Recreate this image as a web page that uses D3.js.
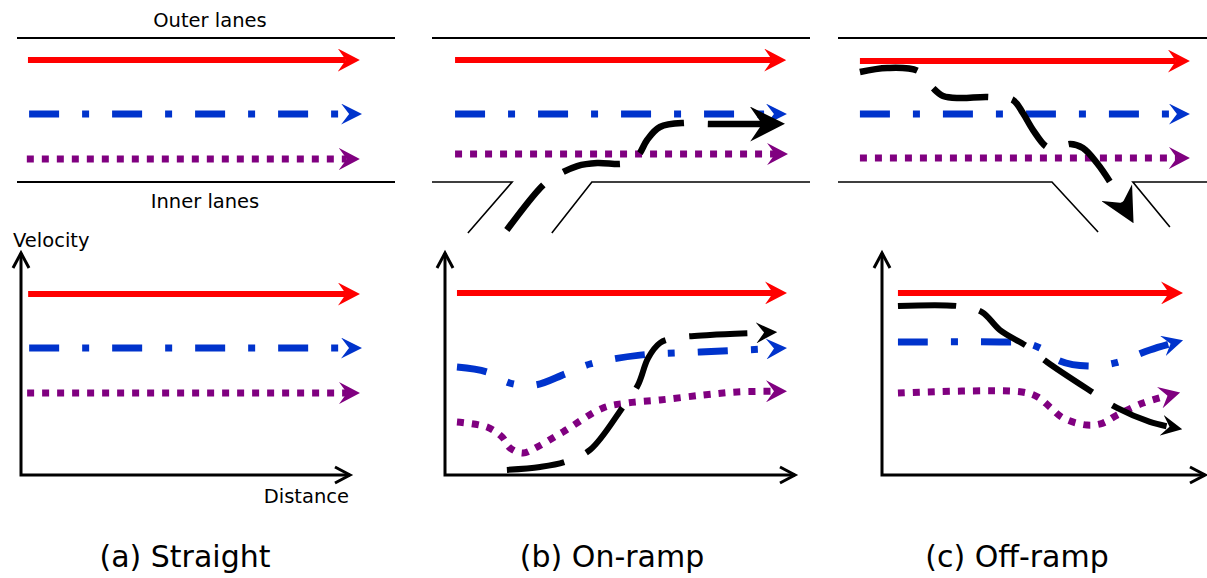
<!DOCTYPE html>
<html><head><meta charset="utf-8">
<script src="https://cdn.jsdelivr.net/npm/d3@7"></script>
<style>body{margin:0;background:#fff} svg{display:block}</style>
</head><body><svg id="c" width="1207" height="578"></svg>
<script>
// ---------------- data ----------------
const panelTitles = ["(a) Straight", "(b) On-ramp", "(c) Off-ramp"];
const laneLabels = ["Outer lanes", "Inner lanes"];
const axisTitles = ["Velocity", "Distance"];

// Lane diagrams: [distance 0-100, lateral position (0 = inner road edge, 100 = outer road edge)]
const roadA = [[[0,100],[100,100]], [[0,0],[100,0]]];
const roadB = [[[0,100],[100,100]], [[0,0],[21.2,0],[9.5,-35.4]], [[31.7,-35.4],[42.3,0],[100,0]]];
const roadC = [[[0,100],[100,100]], [[0,0],[56.6,0],[68.8,-34.7]], [[87.8,-31.3],[78,0],[100,0]]];

const laneRedA = [[2.9,84.7],[90.7,84.7]];
const laneBlueA = [[3.2,47.2],[91.3,47.2]];
const lanePurpleA = [[2.6,16.0],[90.7,16.0]];

const laneRedB = [[6.1,84.7],[93.7,84.7]];
const laneBlueB = [[6.1,47.2],[93.9,47.2]];
const lanePurpleB = [[6.1,19.4],[94.2,19.4]];
const laneBlackB = [[19.8,-33.3],[29.4,-2.1],[32.8,4.2],[38.4,11.1],[43.7,13.2],[50,12.5],[53.2,14.6],[55,20.1],[56.9,29.2],[60.3,38.2],[66.9,41],[73.5,40.3],[93.4,40.3]];

const laneRedC = [[5.8,84.0],[93.1,84.0]];
const laneBlueC = [[5.8,47.2],[93.1,47.2]];
const lanePurpleC = [[5.8,16.7],[93.1,16.7]];
const laneBlackC = [[5.8,76.4],[13,79.2],[21.2,77.1],[25.1,65.3],[27.8,59.7],[32.3,58.3],[39.7,59],[46.3,56.9],[48.9,47.9],[51.6,36.1],[55.3,24.3],[58.2,23.6],[61.4,26.4],[64.8,23.6],[68.5,13.2],[72.5,-2.1],[78.3,-28.5]];

// Velocity profiles: [distance 0-100, velocity 0-100]
const velRedA = [[2.1,81.5],[99.7,81.5]];
const velBlueA = [[2.4,57.2],[100.3,57.2]];
const velPurpleA = [[1.8,36.9],[99.7,36.9]];

const velRedB = [[3.5,82],[100,82]];
const velBlueB = [[3.5,48.6],[12.3,46.4],[19,41.4],[26.3,40.5],[35.1,45.5],[42.4,50],[57,54],[74.6,55.4],[100,57.2]];
const velPurpleB = [[3.5,23.9],[12.3,21.6],[16.7,17.1],[19,12.2],[22.8,9.9],[26.9,12.6],[34.5,19.4],[46.2,30.2],[53.2,32.4],[62.9,33.8],[75.4,36],[85.4,37.4],[100,37.8]];
const velBlackB = [[18.1,2.3],[27.8,3.6],[35.1,5.9],[42.4,11.3],[52,30.6],[56.4,40.5],[59.4,52.7],[62.9,59.5],[67.3,61.7],[77.5,63.1],[97.1,64.4]];

const velRedC = [[5.3,82],[100,82]];
const velBlueC = [[5.3,59.9],[39.2,59.9],[47.5,59.5],[52.5,57.2],[59.1,51.4],[68.4,49.1],[77.4,50.5],[89,56.3],[100,60.8]];
const velPurpleC = [[5.3,36.9],[46.5,37.4],[51.8,35.1],[55.8,30.6],[60.1,25.7],[68.1,22.5],[73.4,23.4],[78.1,27],[86.7,32.4],[99,37.4]];
const velBlackC = [[5.3,76.1],[25.2,76.1],[33.2,73.4],[39.2,65.3],[48.5,57.7],[54.8,50.9],[70.8,36.5],[78.1,30.2],[89,23.9],[99.7,20.3]];

// ---------------- layout ----------------
const layout = [
  {laneX:[17,395],  velX:[21,361],   ax:{x0:21,  xEnd:350},  title:185},
  {laneX:[432,810], velX:[445,787],  ax:{x0:445, xEnd:795},  title:612},
  {laneX:[838,1216],velX:[882,1183], ax:{x0:882, xEnd:1205}, title:1017}
];
const laneYRange = [182, 38];
const velYRange = [475, 253];

const svg = d3.select("#c");
const defs = svg.append("defs");
function marker(id, color, L, H, n) {
  defs.append("marker").attr("id", id).attr("markerUnits","userSpaceOnUse")
    .attr("viewBox", `0 ${-H} ${L} ${2*H}`)
    .attr("markerWidth", L).attr("markerHeight", 2*H)
    .attr("refX", n).attr("refY", 0).attr("orient","auto")
    .append("path").attr("d", `M0,${-H}L${L},0L0,${H}L${n},0Z`).attr("fill", color);
}
marker("hRed", "#ff0000", 22, 11.5, 8);
marker("hBlue", "#0033cc", 21, 10.5, 8);
marker("hPurple", "#800080", 21, 11, 8);
marker("hBlackBig", "#000", 35, 17.5, 12);
marker("hBlackSmall", "#000", 21, 10.5, 8);

const styles = {
  red:    {color:"#ff0000", width:6,   dash:null,          head:"hRed",       back:14},
  blue:   {color:"#0033cc", width:7,   dash:"30,23,7,23",  head:"hBlue",      back:13},
  purple: {color:"#800080", width:7,   dash:"7,8",         head:"hPurple",    back:13},
  black:  {color:"#000",    width:6.5, dash:"58,24",       head:"hBlackBig",  back:23},
  blackV: {color:"#000",    width:6,   dash:"58,24",       head:"hBlackSmall",back:13}
};

const curve = d3.line().curve(d3.curveCatmullRom.alpha(0.5));

function drawSeries(data, xs, ys, st) {
  const pts = data.map(d => [xs(d[0]), ys(d[1])]);
  const n = pts.length;
  const [x1,y1] = pts[n-1], [x0,y0] = pts[n-2];
  const len = Math.hypot(x1-x0, y1-y0);
  pts[n-1] = [x1 - (x1-x0)/len*st.back, y1 - (y1-y0)/len*st.back];
  svg.append("path").attr("d", curve(pts))
    .attr("fill","none").attr("stroke", st.color).attr("stroke-width", st.width)
    .attr("stroke-dasharray", st.dash).attr("stroke-linecap","butt")
    .attr("marker-end", `url(#${st.head})`);
}

const roads = [roadA, roadB, roadC];
const lanes = [
  [laneRedA, laneBlueA, lanePurpleA, null],
  [laneRedB, laneBlueB, lanePurpleB, laneBlackB],
  [laneRedC, laneBlueC, lanePurpleC, laneBlackC]
];
const vels = [
  [velRedA, velBlueA, velPurpleA, null],
  [velRedB, velBlueB, velPurpleB, velBlackB],
  [velRedC, velBlueC, velPurpleC, velBlackC]
];

const poly = d3.line();
layout.forEach((L, i) => {
  const lx = d3.scaleLinear().domain([0,100]).range(L.laneX);
  const ly = d3.scaleLinear().domain([0,100]).range(laneYRange);
  roads[i].forEach(r => {
    svg.append("path").attr("d", poly(r.map(d => [lx(d[0]), ly(d[1])])))
      .attr("fill","none").attr("stroke","#000")
      .attr("stroke-width", r.length > 2 ? 1.6 : 2);
  });
  const [r, b, p, k] = lanes[i];
  drawSeries(r, lx, ly, styles.red);
  drawSeries(b, lx, ly, styles.blue);
  drawSeries(p, lx, ly, styles.purple);
  if (k) drawSeries(k, lx, ly, styles.black);

  const vx = d3.scaleLinear().domain([0,100]).range(L.velX);
  const vy = d3.scaleLinear().domain([0,100]).range(velYRange);
  const ox = L.ax.x0, oy = vy(0), top = vy(100);
  svg.append("path").attr("d", `M${ox},${top}V${oy}H${L.ax.xEnd}`)
    .attr("fill","none").attr("stroke","#000").attr("stroke-width",3);
  svg.append("path").attr("d", `M${ox-8},${top+15}L${ox},${top}L${ox+8},${top+15}`)
    .attr("fill","none").attr("stroke","#000").attr("stroke-width",3);
  svg.append("path").attr("d", `M${L.ax.xEnd-15},${oy-8}L${L.ax.xEnd},${oy}L${L.ax.xEnd-15},${oy+8}`)
    .attr("fill","none").attr("stroke","#000").attr("stroke-width",3);

  const [vr, vb, vp, vk] = vels[i];
  drawSeries(vr, vx, vy, styles.red);
  drawSeries(vb, vx, vy, styles.blue);
  drawSeries(vp, vx, vy, styles.purple);
  if (vk) drawSeries(vk, vx, vy, styles.blackV);

  svg.append("text").attr("x", L.title).attr("y", 567).attr("text-anchor","middle")
    .attr("font-family","DejaVu Sans").attr("font-size", 30).text(panelTitles[i]);
});

const font = "DejaVu Sans";
svg.append("text").attr("x",210).attr("y",27).attr("text-anchor","middle")
  .attr("font-family",font).attr("font-size",19.5).text(laneLabels[0]);
svg.append("text").attr("x",205).attr("y",208).attr("text-anchor","middle")
  .attr("font-family",font).attr("font-size",19.5).text(laneLabels[1]);
svg.append("text").attr("x",13).attr("y",247).attr("text-anchor","start")
  .attr("font-family",font).attr("font-size",19.5).text(axisTitles[0]);
svg.append("text").attr("x",349).attr("y",503).attr("text-anchor","end")
  .attr("font-family",font).attr("font-size",19.5).text(axisTitles[1]);
</script>
</body></html>
